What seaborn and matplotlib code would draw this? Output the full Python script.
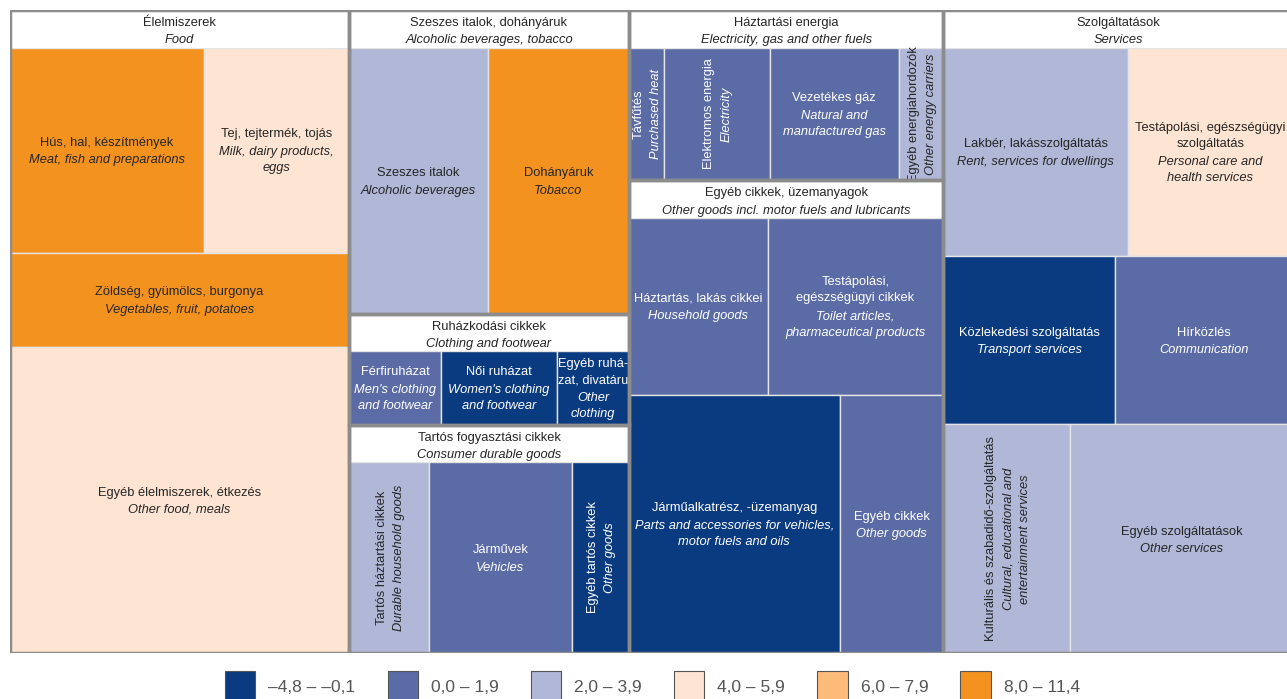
"""
Consumer price treemap: weights of expenditure groups, coloured by price change class.
"""

import matplotlib
matplotlib.use('Agg')
import matplotlib.pyplot as plt
from matplotlib.patches import Rectangle, Patch
import seaborn as sns


# Main groups (header text)
GROUP_HU = ["Élelmiszerek", "Szeszes italok, dohányáruk", "Ruházkodási cikkek",
            "Tartós fogyasztási cikkek", "Háztartási energia",
            "Egyéb cikkek, üzemanyagok", "Szolgáltatások"]
GROUP_EN = ["Food", "Alcoholic beverages, tobacco", "Clothing and footwear",
            "Consumer durable goods", "Electricity, gas and other fuels",
            "Other goods incl. motor fuels and lubricants", "Services"]

# Items (leaves of the treemap)
ITEM_HU = [
    "Hús, hal, készítmények", "Tej, tejtermék, tojás",
    "Zöldség, gyümölcs, burgonya", "Egyéb élelmiszerek, étkezés",
    "Szeszes italok", "Dohányáruk",
    "Férfiruházat", "Női ruházat", "Egyéb ruhá-\nzat, divatáru",
    "Tartós háztartási cikkek", "Járművek", "Egyéb tartós cikkek",
    "Távfűtés", "Elektromos energia", "Vezetékes gáz", "Egyéb energiahordozók",
    "Háztartás, lakás cikkei", "Testápolási,\negészségügyi cikkek",
    "Járműalkatrész, -üzemanyag", "Egyéb cikkek",
    "Lakbér, lakásszolgáltatás", "Testápolási, egészségügyi\nszolgáltatás",
    "Közlekedési szolgáltatás", "Hírközlés",
    "Kulturális és szabadidő-szolgáltatás", "Egyéb szolgáltatások",
]
ITEM_EN = [
    "Meat, fish and preparations", "Milk, dairy products,\neggs",
    "Vegetables, fruit, potatoes", "Other food, meals",
    "Alcoholic beverages", "Tobacco",
    "Men's clothing\nand footwear", "Women's clothing\nand footwear", "Other\nclothing",
    "Durable household goods", "Vehicles", "Other goods",
    "Purchased heat", "Electricity", "Natural and\nmanufactured gas", "Other energy carriers",
    "Household goods", "Toilet articles,\npharmaceutical products",
    "Parts and accessories for vehicles,\nmotor fuels and oils", "Other goods",
    "Rent, services for dwellings", "Personal care and\nhealth services",
    "Transport services", "Communication",
    "Cultural, educational and\nentertainment services", "Other services",
]
# Weight in the consumer basket (per mille)
ITEM_WEIGHT = [53.4, 40.1, 42.9, 139.6,
               49.7, 50.4,
               9.1, 11.4, 7.1,
               20.5, 36.7, 14.6,
               6.2, 18.9, 23.0, 8.0,
               33.0, 41.8, 73.2, 36.1,
               51.6, 46.3, 38.8, 40.4, 38.8, 68.6]
# Price change class (index into BIN_LABELS)
ITEM_BIN = [5, 3, 5, 3,
            2, 5,
            1, 0, 0,
            2, 1, 0,
            1, 1, 1, 2,
            1, 1, 0, 1,
            2, 3, 0, 1, 2, 2]

BIN_LABELS = ["\u20134,8 \u2013 \u20130,1", "0,0 \u2013 1,9", "2,0 \u2013 3,9",
              "4,0 \u2013 5,9", "6,0 \u2013 7,9", "8,0 \u2013 11,4"]
BIN_COLORS = ["#0A3A7F", "#5B6BA5", "#B0B7D7", "#FDE4D3", "#FDBB7A", "#F4921F"]

# Layout: which groups stack in each column, and how each group's box is cut
COLUMNS = [[0], [1, 2, 3], [4, 5], [6]]
GROUP_LAYOUT = {
    0: ('v', [('h', [0, 1]), 2, 3]),
    1: ('h', [4, 5]),
    2: ('h', [6, 7, 8]),
    3: ('h', [9, 10, 11]),
    4: ('h', [12, 13, 14, 15]),
    5: ('v', [('h', [16, 17]), ('h', [18, 19])]),
    6: ('v', [('h', [20, 21]), ('h', [22, 23]), ('h', [24, 25])]),
}
VERTICAL_TEXT = {9, 11, 12, 13, 15, 24}

PLOT_W, PLOT_H = 1283.0, 643.0   # drawing units (pixels)
HEADER_H = 37.5
FS = 9.3
DARK = '#262626'


def node_weight(node):
    if isinstance(node, int):
        return ITEM_WEIGHT[node]
    return sum(node_weight(k) for k in node[1])


def split(rect, node, out):
    x, y, w, h = rect
    if isinstance(node, int):
        out[node] = rect
        return
    orient, kids = node
    tot = node_weight(node)
    pos = x if orient == 'h' else y
    for k in kids:
        frac = node_weight(k) / tot
        if orient == 'h':
            split((pos, y, w * frac, h), k, out)
            pos += w * frac
        else:
            split((x, pos, w, h * frac), k, out)
            pos += h * frac


def put_label(ax, cx, cy, hu, en, color, fs, rotate=False, shift=1.0):
    nh = hu.count('\n') + 1
    ne = en.count('\n') + 1
    L = fs * 1.33
    up_hu, dn_en = ne * L / 2, nh * L / 2
    if rotate:
        off_hu, off_en, rot = (-up_hu + shift, 0), (dn_en + shift, 0), 90
    else:
        off_hu, off_en, rot = (0, up_hu - shift), (0, -dn_en - shift), 0
    ax.annotate(hu, (cx, cy), xytext=off_hu, textcoords='offset points',
                ha='center', va='center', rotation=rot, fontsize=fs,
                color=color, linespacing=1.45)
    ax.annotate(en, (cx, cy), xytext=off_en, textcoords='offset points',
                ha='center', va='center', rotation=rot, fontsize=fs,
                color=color, style='italic', linespacing=1.45)


sns.set_theme(style='white')
plt.rcParams['font.family'] = ['Liberation Sans', 'DejaVu Sans']
palette = sns.color_palette(BIN_COLORS)

fig = plt.figure(figsize=(12.87, 6.99), dpi=100)
ax = fig.add_axes([10 / 1287, 46 / 699, PLOT_W / 1287, PLOT_H / 699])
ax.set_xlim(0, PLOT_W)
ax.set_ylim(PLOT_H, 0)
ax.axis('off')

# column widths so that every item area is proportional to its weight
col_sum = [sum(node_weight(GROUP_LAYOUT[g]) for g in col) for col in COLUMNS]
col_free = [PLOT_H - len(col) * HEADER_H for col in COLUMNS]
scale = PLOT_W / sum(s / f for s, f in zip(col_sum, col_free))

rects = {}
group_boxes = {}
x0 = 0.0
for col, s, f in zip(COLUMNS, col_sum, col_free):
    cw = scale * s / f
    y0 = 0.0
    for g in col:
        gh = HEADER_H + scale * node_weight(GROUP_LAYOUT[g]) / cw
        group_boxes[g] = (x0, y0, cw, gh)
        split((x0, y0 + HEADER_H, cw, gh - HEADER_H), GROUP_LAYOUT[g], rects)
        y0 += gh
    x0 += cw

for i, (x, y, w, h) in rects.items():
    b = ITEM_BIN[i]
    ax.add_patch(Rectangle((x, y), w, h, facecolor=palette[b],
                           edgecolor='#e4e4e4', lw=1.0))
    tc = 'white' if b <= 1 else DARK
    put_label(ax, x + w / 2, y + h / 2, ITEM_HU[i], ITEM_EN[i], tc, FS,
              rotate=i in VERTICAL_TEXT)

for g, (x, y, w, h) in group_boxes.items():
    ax.add_patch(Rectangle((x, y), w, HEADER_H, facecolor='white', edgecolor='none'))
    put_label(ax, x + w / 2, y + HEADER_H / 2, GROUP_HU[g], GROUP_EN[g], DARK, FS,
              shift=2.2)
    ax.add_patch(Rectangle((x, y), w, h, facecolor='none',
                           edgecolor='#8c8c8c', lw=2.5, zorder=5))

handles = [Patch(facecolor=palette[i], edgecolor='#555555', lw=0.8, label=BIN_LABELS[i])
           for i in range(len(BIN_LABELS))]
fig.legend(handles=handles, loc='upper center', bbox_to_anchor=(0.507, 0.052),
           ncol=6, frameon=False, fontsize=12.5, handlelength=1.75, handleheight=2.3,
           handletextpad=0.75, columnspacing=1.85, borderpad=0, labelcolor='#555555')

fig.savefig('out.png', dpi=100)
